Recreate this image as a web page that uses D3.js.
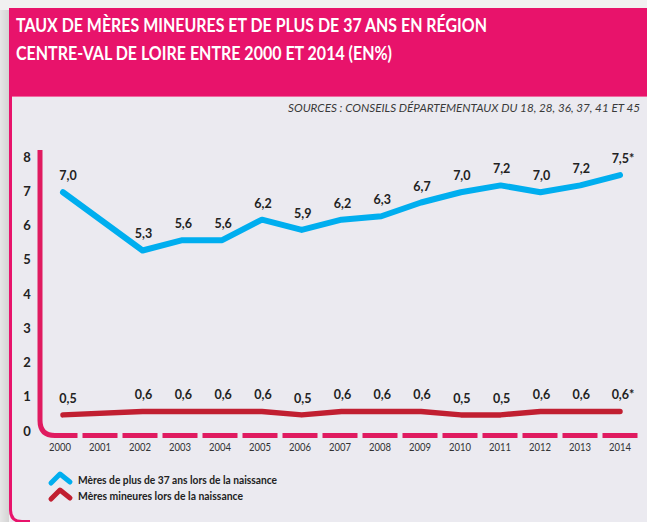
<!DOCTYPE html>
<html>
<head>
<meta charset="utf-8">
<script src="https://cdn.jsdelivr.net/npm/d3@7"></script>
<style>
  html, body { margin: 0; padding: 0; background: #efefef; overflow: hidden; }
  svg { display: block; overflow: hidden; }
</style>
</head>
<body>
<svg id="chart" width="647" height="522"></svg>
<script>
// ---- data ----
const titleLines = ["TAUX DE MÈRES MINEURES ET DE PLUS DE 37 ANS EN RÉGION", "CENTRE-VAL DE LOIRE ENTRE 2000 ET 2014 (EN%)"];
const sourceText = "SOURCES : CONSEILS DÉPARTEMENTAUX DU 18, 28, 36, 37, 41 ET 45";
const axisYears = [2000, 2001, 2002, 2003, 2004, 2005, 2006, 2007, 2008, 2009, 2010, 2011, 2012, 2013, 2014];
const dataYears = [2000, 2002, 2003, 2004, 2005, 2006, 2007, 2008, 2009, 2010, 2011, 2012, 2013, 2014];
const over37 = [7.0, 5.3, 5.6, 5.6, 6.2, 5.9, 6.2, 6.3, 6.7, 7.0, 7.2, 7.0, 7.2, 7.5];
const minors = [0.5, 0.6, 0.6, 0.6, 0.6, 0.5, 0.6, 0.6, 0.6, 0.5, 0.5, 0.6, 0.6, 0.6];
const provisionalYears = [2014];
const yTicks = [0, 1, 2, 3, 4, 5, 6, 7, 8];
const seriesNames = ["Mères de plus de 37 ans lors de la naissance", "Mères mineures lors de la naissance"];

// ---- style ----
const PINK = "#e8136b", AXIS_PINK = "#e01b60", BLUE = "#00aeef", RED = "#c11f31", BODY = "#ebeaf0";
const W = 647, H = 522;

const svg = d3.select("#chart");
const defs = svg.append("defs");
const grad = defs.append("linearGradient").attr("id", "shadow").attr("x1", 0).attr("x2", 1).attr("y1", 0).attr("y2", 0);
grad.append("stop").attr("offset", "0%").attr("stop-color", "#e6e6e6");
grad.append("stop").attr("offset", "100%").attr("stop-color", "#d4d4d4");

svg.append("rect").attr("width", W).attr("height", H).attr("fill", "#f1f1f1");
svg.append("rect").attr("x", 0).attr("y", 10).attr("width", 9).attr("height", H - 10).attr("fill", "url(#shadow)");

// card body: fill + left border with rounded bottom-left corner
svg.append("rect").attr("x", 10.5).attr("y", 20).attr("width", W - 10.5).attr("height", H - 20).attr("fill", BODY);
const border = d3.path();
border.moveTo(10.5, 20);
border.lineTo(10.5, 510);
border.quadraticCurveTo(10.5, 521.5, 22, 521.5);
border.lineTo(30, 521.5);
svg.append("path").attr("d", border.toString()).attr("fill", "none").attr("stroke", PINK).attr("stroke-width", 3);

// header
svg.append("rect").attr("x", 9).attr("y", 8).attr("width", W - 9).attr("height", 88).attr("fill", PINK);
svg.append("line").attr("x1", 12).attr("x2", W).attr("y1", 96.5).attr("y2", 96.5).attr("stroke", "#f06aa0").attr("stroke-width", 1);

const titleWidths = [471, 376];
svg.selectAll("text.title").data(titleLines).join("text").attr("class", "title")
  .attr("x", 16).attr("y", (d, i) => 32 + i * 27.5)
  .attr("font-family", "Lato, 'Open Sans', sans-serif").attr("font-weight", 700).attr("font-size", 18.5)
  .attr("fill", "#fff")
  .attr("textLength", (d, i) => titleWidths[i]).attr("lengthAdjust", "spacingAndGlyphs")
  .text(d => d);

svg.append("text").attr("x", 288).attr("y", 112)
  .attr("font-family", "Lato, 'Open Sans', sans-serif").attr("font-style", "italic").attr("font-size", 11.5)
  .attr("fill", "#3a3a3a").attr("textLength", 352).attr("lengthAdjust", "spacingAndGlyphs")
  .text(sourceText);

// ---- scales ----
const y = d3.scaleLinear().domain([0, 8]).range([432, 158]);
const xAxis = d3.scaleLinear().domain([2000, 2014]).range([60, 620]);
const xData = d3.scaleLinear().domain([2000, 2014]).range([63, 620]);

// y tick labels
svg.selectAll("text.ytick").data(yTicks).join("text").attr("class", "ytick")
  .attr("x", 27).attr("y", d => y(d) - 1).attr("dy", "0.35em").attr("text-anchor", "middle")
  .attr("font-family", "Lato, sans-serif").attr("font-weight", 700).attr("font-size", 13).attr("fill", "#222")
  .text(d => d);

// axis frame: vertical line + rounded corner + dashed baseline
const baseY = 435.5;
const corner = d3.path();
corner.moveTo(40, 150);
corner.lineTo(40, baseY - 15);
corner.quadraticCurveTo(40, baseY, 55, baseY);
corner.lineTo(xAxis(2000) + 17.5, baseY);
svg.append("path").attr("d", corner.toString()).attr("fill", "none")
  .attr("stroke", AXIS_PINK).attr("stroke-width", 5);
svg.selectAll("line.dash").data(axisYears.slice(1)).join("line").attr("class", "dash")
  .attr("x1", d => xAxis(d) - 17.5).attr("x2", d => xAxis(d) + 17.5)
  .attr("y1", baseY).attr("y2", baseY)
  .attr("stroke", AXIS_PINK).attr("stroke-width", 5);

svg.selectAll("text.year").data(axisYears).join("text").attr("class", "year")
  .attr("x", d => xAxis(d)).attr("y", 451).attr("text-anchor", "middle")
  .attr("font-family", "Lato, sans-serif").attr("font-size", 11).attr("fill", "#333")
  .attr("textLength", 22).attr("lengthAdjust", "spacingAndGlyphs")
  .text(d => d);

// ---- lines ----
const line = d3.line().x(d => xData(d[0])).y(d => y(d[1])).curve(d3.curveLinear);
const blueData = dataYears.map((yr, i) => [yr, over37[i]]);
const redData = dataYears.map((yr, i) => [yr, minors[i]]);

svg.append("path").attr("d", line(redData)).attr("fill", "none").attr("stroke", RED)
  .attr("stroke-width", 5.5).attr("stroke-linecap", "round").attr("stroke-linejoin", "round");
svg.append("path").attr("d", line(blueData)).attr("fill", "none").attr("stroke", BLUE)
  .attr("stroke-width", 6).attr("stroke-linecap", "round").attr("stroke-linejoin", "round");

const fmt = v => v.toFixed(1).replace(".", ",");
function labels(data, cls) {
  svg.selectAll("text." + cls).data(data).join("text").attr("class", cls)
    .attr("x", d => xData(d[0]) + (d[0] === 2000 ? 5 : 1) + (provisionalYears.includes(d[0]) ? 2 : 0))
    .attr("y", d => y(d[1]) - 12)
    .attr("text-anchor", "middle")
    .attr("font-family", "Lato, sans-serif").attr("font-weight", 700).attr("font-size", 12.5).attr("fill", "#222")
    .text(d => fmt(d[1]) + (provisionalYears.includes(d[0]) ? "*" : ""));
}
labels(blueData, "lblBlue");
labels(redData, "lblRed");

// ---- legend ----
const legendColors = [BLUE, RED];
const lg = svg.selectAll("g.legend").data(seriesNames).join("g").attr("class", "legend")
  .attr("transform", (d, i) => `translate(0, ${i * 16})`);
lg.append("path").attr("d", "M51,483 L60,474 L70,482")
  .attr("fill", "none").attr("stroke", (d, i) => legendColors[i]).attr("stroke-width", 5)
  .attr("stroke-linecap", "round").attr("stroke-linejoin", "round");
const legendWidths = [199, 165];
lg.append("text").attr("x", 78).attr("y", 484)
  .attr("font-family", "Lato, sans-serif").attr("font-weight", 700).attr("font-size", 11.5).attr("fill", "#222")
  .attr("textLength", (d, i) => legendWidths[i]).attr("lengthAdjust", "spacingAndGlyphs")
  .text(d => d);
</script>
</body>
</html>
